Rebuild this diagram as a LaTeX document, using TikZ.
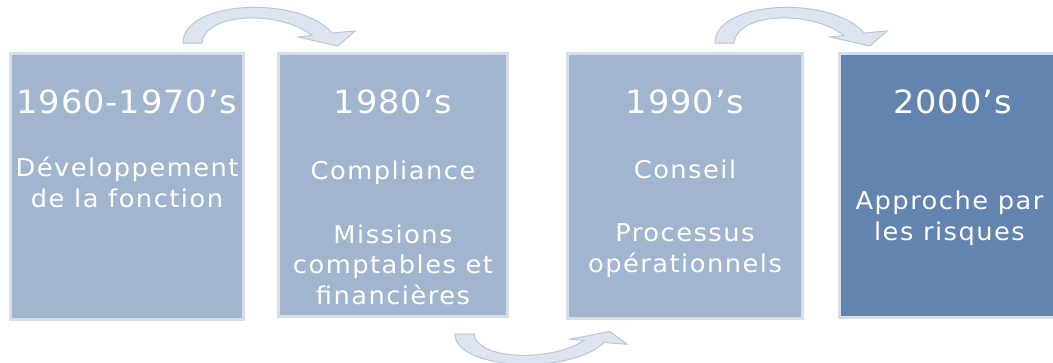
\documentclass[tikz,border=0pt]{standalone}
\usepackage{fontspec}
\usepackage{tikz}
\newfontfamily\titlefont{DejaVu Sans}[FakeStretch=1.05,LetterSpace=3]
\newfontfamily\bodyfont{DejaVu Sans}[FakeStretch=1.05,LetterSpace=6]
\definecolor{boxlight}{HTML}{A2B5CF}
\definecolor{boxdark}{HTML}{6284AE}
\definecolor{boxrim}{HTML}{D5DEE9}
\definecolor{arrowfill}{HTML}{DDE5EF}
\definecolor{arrowrim}{HTML}{B7C6DA}
\newcommand\bentarrow[1]{%
  \draw[arrowband,#1] (0,0) .. controls (0,-43) and (117,-48) .. (149,-10)
    -- (172,-12) -- (155,3) -- (115,-6) -- (129,-7.5)
    .. controls (97,-33) and (22,-31) .. (19,0) -- cycle;}

\begin{document}
\begin{tikzpicture}
		[x=1pt,y=-1pt,
		period/.style={draw=boxrim,line width=3pt,fill=boxlight,anchor=north west,inner sep=0pt,outer sep=0pt},
		year/.style={text=white,font=\titlefont\fontsize{32}{36}\selectfont,anchor=base},
		theme/.style={text=white,font=\bodyfont\fontsize{24.5}{30.5}\selectfont,align=center,anchor=base},
		arrowband/.style={fill=arrowfill,draw=arrowrim,line width=1pt}]
		\useasboundingbox (0,0) rectangle (1053,362);
		
		\node[period,minimum width=233pt,minimum height=266pt] (p1) at (10.5,53.5) {};
		\node[period,minimum width=229pt,minimum height=263pt] (p2) at ([xshift=35pt]p1.north east) {};
		\node[period,minimum width=235pt,minimum height=265pt] (p3) at ([xshift=60pt]p2.north east) {};
		\node[period,fill=boxdark,minimum width=226pt,minimum height=264pt] (p4) at ([xshift=37pt]p3.north east) {};
		
		% base of a theme node = baseline of its last line
		\node[year] (y1) at ([yshift=-59.5pt]p1.north) {1960-1970’s};
		\node[theme] (d1) at ([yshift=-153.5pt]p1.north) {Développement\\de la fonction};
		
		\node[year] (y2) at ([yshift=-59.5pt]p2.north) {1980’s};
		\node[theme] (d2) at ([yshift=-250.5pt]p2.north) {Compliance\\[33pt]Missions\\comptables et\\financières};
		
		\node[year] (y3) at ([yshift=-59.5pt]p3.north) {1990’s};
		\node[theme] (d3) at ([yshift=-218.5pt]p3.north) {Conseil\\[33pt]Processus\\opérationnels};
		
		\node[year] (y4) at ([yshift=-59.5pt]p4.north) {2000’s};
		\node[theme] (d4) at ([shift={(-3pt,-186.5pt)}]p4.north) {Approche par\\les risques};
		
		\coordinate (t1) at ([shift={(-60.5pt,10.5pt)}]p1.north east);
		\coordinate (t2) at ([shift={(-52.5pt,-17.5pt)}]p2.south east);
		\coordinate (t3) at ([shift={(-87.5pt,10.5pt)}]p3.north east);
		\bentarrow{shift={(t1)}}
		\bentarrow{shift={(t2)},yscale=-0.85}
		\bentarrow{shift={(t3)}}
		
\end{tikzpicture}
\end{document}
